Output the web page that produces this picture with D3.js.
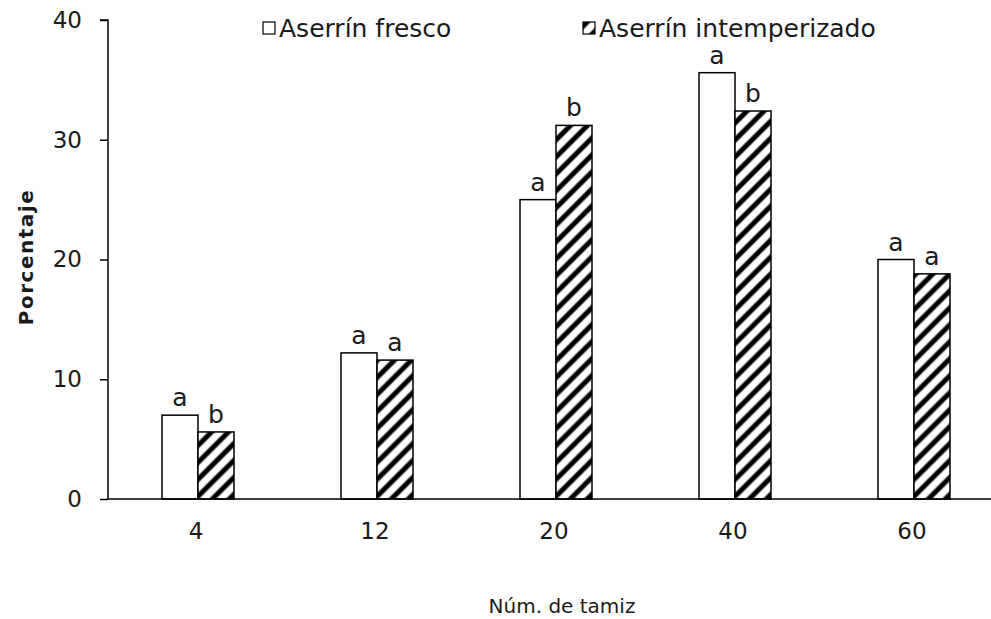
<!DOCTYPE html>
<html><head><meta charset="utf-8">
<script src="https://cdn.jsdelivr.net/npm/d3@7"></script>
<style>
html,body{margin:0;padding:0;background:#fff;}
text{font-family:"DejaVu Sans",Verdana,sans-serif;fill:#1a1a1a;}
</style></head>
<body>
<svg id="chart" width="991" height="619"></svg>
<script>
const categories = ["4", "12", "20", "40", "60"];
const seriesNames = ["Aserrín fresco", "Aserrín intemperizado"];
const fresco = [7.0, 12.2, 25.0, 35.6, 20.0];
const intemperizado = [5.6, 11.6, 31.2, 32.4, 18.8];
const lettersFresco = ["a", "a", "a", "a", "a"];
const lettersIntemp = ["b", "a", "b", "b", "a"];
const yTicks = [0, 10, 20, 30, 40];

const svg = d3.select("#chart");
const defs = svg.append("defs");
const pat = defs.append("pattern").attr("id", "hatch")
  .attr("patternUnits", "userSpaceOnUse").attr("width", 12).attr("height", 12)
  .attr("patternTransform", "rotate(45)");
pat.append("rect").attr("width", 12).attr("height", 12).attr("fill", "#fff");
pat.append("line").attr("x1", 3).attr("y1", 0).attr("x2", 3).attr("y2", 12)
  .attr("stroke", "#000").attr("stroke-width", 5);

const x = d3.scaleBand().domain(categories).range([108.5, 1003.5]);
const xSub = d3.scaleBand().domain(seriesNames).range([-36, 36]);
const y = d3.scaleLinear().domain([0, 40]).range([499, 20]);

const data = categories.map((c, i) => ({
  cat: c,
  vals: [
    {s: seriesNames[0], v: fresco[i], l: lettersFresco[i]},
    {s: seriesNames[1], v: intemperizado[i], l: lettersIntemp[i]}
  ]
}));

const g = svg.append("g");
const groups = g.selectAll("g.grp").data(data).join("g")
  .attr("transform", d => `translate(${x(d.cat) + x.bandwidth() / 2},0)`);

groups.selectAll("rect").data(d => d.vals).join("rect")
  .attr("x", d => xSub(d.s))
  .attr("y", d => y(d.v))
  .attr("width", xSub.bandwidth())
  .attr("height", d => y(0) - y(d.v))
  .attr("fill", (d, i) => i === 0 ? "#fff" : "url(#hatch)")
  .attr("stroke", "#000").attr("stroke-width", 1.5);

groups.selectAll("text.lbl").data(d => d.vals).join("text")
  .attr("class", "lbl")
  .attr("x", d => xSub(d.s) + xSub.bandwidth() / 2)
  .attr("y", d => y(d.v) - 9)
  .attr("text-anchor", "middle")
  .style("font-size", "25px")
  .text(d => d.l);

// Y axis
const yAxis = d3.axisLeft(y).tickValues(yTicks).tickSize(8).tickPadding(18);
const ya = svg.append("g").attr("transform", "translate(108,0)").call(yAxis);
ya.select(".domain").attr("stroke", "#000").attr("stroke-width", 1.5).attr("d", "M-8,20H0V499");
ya.selectAll(".tick line").attr("stroke", "#000").attr("stroke-width", 1.5);
ya.selectAll(".tick text").style("font-size", "23px").attr("fill", "#1a1a1a");

// X axis
const xAxis = d3.axisBottom(x).tickSize(0).tickPadding(24);
const xa = svg.append("g").attr("transform", "translate(0,499)").call(xAxis);
xa.select(".domain").attr("stroke", "#000").attr("stroke-width", 1.5).attr("d", "M108,0H991");
xa.selectAll(".tick text").style("font-size", "23px").attr("fill", "#1a1a1a")
  .attr("transform", "translate(-2,0)");

// Axis titles
svg.append("text").attr("x", 562).attr("y", 613).attr("text-anchor", "middle")
  .style("font-size", "20px").text("Núm. de tamiz");
svg.append("text").attr("transform", "translate(33,257) rotate(-90)")
  .attr("text-anchor", "middle").style("font-size", "20px").style("font-weight", "bold")
  .style("letter-spacing", "1.5px").text("Porcentaje");

// Legend
const legendX = [263, 583];
const leg = svg.append("g").selectAll("g").data(seriesNames).join("g")
  .attr("transform", (d, i) => `translate(${legendX[i]},22)`);
leg.append("rect").attr("x", 0).attr("y", 0).attr("width", 12).attr("height", 12)
  .attr("fill", (d, i) => i === 0 ? "#fff" : "url(#hatch)")
  .attr("stroke", "#000").attr("stroke-width", 1.2);
leg.append("text").attr("x", 16).attr("y", 15).style("font-size", "25px").text(d => d);
</script>
</body></html>
